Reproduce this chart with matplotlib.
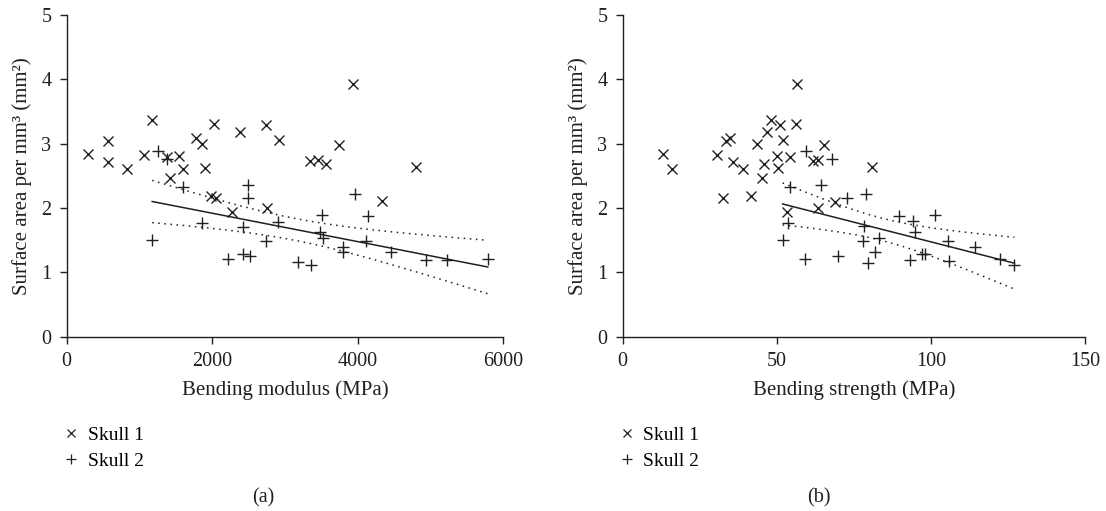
import numpy as np
import matplotlib
matplotlib.use("Agg")
import matplotlib.pyplot as plt
from matplotlib.lines import Line2D

# ---- data ----
# Panel (a): bending modulus (MPa) vs surface area per mm3
mod_s1 = [288, 572, 572, 824, 1168, 1062, 1382, 1547, 1602, 1419, 1772, 1863, 1900, 2028,
          2380, 2742, 2926, 1978, 2051, 2275, 2755, 3342, 3456, 3562, 3745, 3937, 4798, 4335]
area_s1 = [2.84, 3.04, 2.71, 2.60, 3.36, 2.82, 2.79, 2.81, 2.60, 2.47, 3.09, 3.00, 2.62, 3.30,
           3.18, 3.28, 3.06, 2.19, 2.15, 1.94, 2.00, 2.73, 2.74, 2.68, 2.98, 3.93, 2.64, 2.10]
mod_s2 = [1250, 1374, 1593, 2495, 2495, 1176, 1863, 2418, 2220, 2418, 2518, 2747, 2907, 3181,
          3365, 3511, 3479, 3525, 3800, 3800, 3970, 4143, 4121, 4464, 4936, 5234, 5791]
area_s2_a = [2.89, 2.76, 2.32, 2.36, 2.16, 1.50, 1.77, 1.71, 1.20, 1.28, 1.25, 1.48, 1.78, 1.16,
             1.12, 1.89, 1.63, 1.54, 1.40, 1.31, 2.21, 1.88, 1.49, 1.32, 1.19, 1.19, 1.20]

# Panel (b): bending strength (MPa) vs surface area per mm3
str_s1 = [13.0, 15.9, 30.5, 33.5, 34.8, 35.9, 39.0, 32.7, 41.7, 43.5, 45.3, 46.0, 46.8, 48.0,
          50.9, 52.1, 50.2, 50.4, 54.3, 56.2, 56.5, 61.9, 63.4, 65.4, 63.4, 68.9, 53.4, 80.8]
area_s1_b = [2.84, 2.60, 2.82, 3.04, 3.08, 2.72, 2.60, 2.15, 2.18, 3.00, 2.46, 2.68, 3.18, 3.36,
             3.28, 3.06, 2.81, 2.62, 2.79, 3.30, 3.93, 2.73, 2.74, 2.98, 2.00, 2.09, 1.94, 2.64]
str_s2 = [59.4, 67.9, 54.3, 64.4, 72.7, 79.0, 53.8, 78.3, 51.9, 59.0, 70.0, 77.9, 79.7, 89.5,
          94.2, 101.4, 83.3, 81.9, 94.9, 93.3, 97.1, 98.1, 105.4, 106.0, 114.2, 122.5, 127.1]
area_s2_b = [2.89, 2.76, 2.32, 2.36, 2.16, 2.21, 1.76, 1.72, 1.50, 1.20, 1.25, 1.48, 1.15, 1.88,
             1.79, 1.89, 1.54, 1.32, 1.63, 1.19, 1.28, 1.29, 1.49, 1.18, 1.39, 1.20, 1.11]

xticks_a = [0, 2000, 4000, 6000]
xticks_b = [0, 50, 100, 150]
yticks = [0, 1, 2, 3, 4, 5]
series_labels = ["Skull 1", "Skull 2"]

INK = "#231f20"
plt.rcParams["font.family"] = ["Liberation Serif", "DejaVu Serif"]

W, H = 1106, 511
fig = plt.figure(figsize=(W / 100, H / 100), dpi=100)
ax_a = fig.add_axes([0.0603, 0.3411, 0.3945, 0.6301])
ax_b = fig.add_axes([0.5630, 0.3411, 0.4180, 0.6301])


def fit_band(x, y, ax):
    x = np.asarray(x, float)
    y = np.asarray(y, float)
    n = len(x)
    slope, icpt = np.polyfit(x, y, 1)
    xs = np.linspace(x.min(), x.max(), 200)
    yh = icpt + slope * xs
    resid = y - (icpt + slope * x)
    s = np.sqrt(np.sum(resid ** 2) / (n - 2))
    sxx = np.sum((x - x.mean()) ** 2)
    t = 2.06
    hw = t * s * np.sqrt(1.0 / n + (xs - x.mean()) ** 2 / sxx)
    ax.plot(xs, yh, color=INK, lw=1.1)
    ax.plot(xs, yh + hw, color=INK, lw=1.1, ls=(0, (1, 3)))
    ax.plot(xs, yh - hw, color=INK, lw=1.1, ls=(0, (1, 3)))


def style(ax, xt, xlabel):
    ax.set_xlim(xt[0], xt[-1])
    ax.set_ylim(0, 5)
    ax.set_xticks(xt)
    ax.set_yticks(yticks)
    for sp in ["top", "right"]:
        ax.spines[sp].set_visible(False)
    for sp in ["left", "bottom"]:
        ax.spines[sp].set_color(INK)
        ax.spines[sp].set_linewidth(1.0)
    ax.tick_params(direction="out", length=5, width=1.0, color=INK,
                   labelsize=14.5, labelcolor=INK, pad=6)
    ax.set_xlabel(xlabel, fontsize=15, color=INK, labelpad=7)
    ax.set_ylabel("Surface area per mm³ (mm²)", fontsize=15, color=INK, labelpad=7)


for ax, xs1, ys1, xs2, ys2, xt, xl, cap, capx in [
    (ax_a, mod_s1, area_s1, mod_s2, area_s2_a, xticks_a, "Bending modulus (MPa)", "(a)", 263),
    (ax_b, str_s1, area_s1_b, str_s2, area_s2_b, xticks_b, "Bending strength (MPa)", "(b)", 819),
]:
    ax.plot(xs1, ys1, ls="none", marker="x", ms=7, mew=1.0, color=INK, clip_on=False)
    ax.plot(xs2, ys2, ls="none", marker="+", ms=8, mew=1.0, color=INK, clip_on=False)
    fit_band(xs2, ys2, ax)
    style(ax, xt, xl)
    handles = [Line2D([], [], ls="none", marker="x", ms=5.5, mew=0.9, color=INK),
               Line2D([], [], ls="none", marker="+", ms=6.5, mew=0.9, color=INK)]
    ax.legend(handles, series_labels, loc="upper left", bbox_to_anchor=(-0.025, -0.255),
              frameon=False, fontsize=14, handlelength=0.8, handletextpad=0.45,
              labelspacing=0.42, borderaxespad=0)
    fig.text(capx / W, 1 - 498 / H, cap, ha="center", va="center",
             fontsize=14.5, color=INK)

fig.savefig("out.png", dpi=100)
